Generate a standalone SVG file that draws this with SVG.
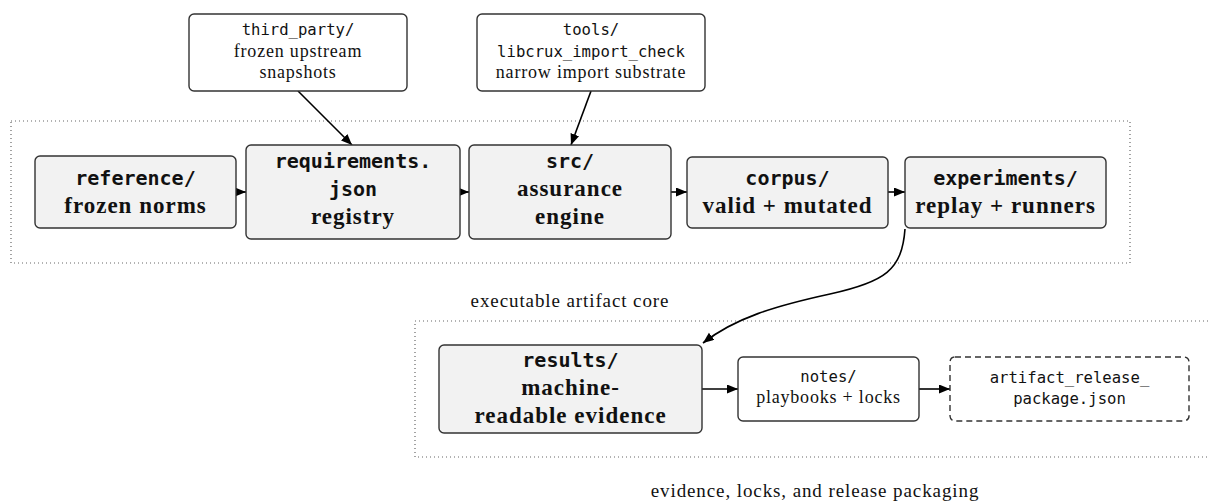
<svg xmlns="http://www.w3.org/2000/svg" width="1208" height="504" viewBox="0 0 1208 504">
<style>
.cl{fill:none;stroke:#666;stroke-width:1.2;stroke-dasharray:1 3}
.main{fill:#f2f2f2;stroke:#333;stroke-width:1.4}
.plain{fill:#fff;stroke:#333;stroke-width:1.4}
.dash{fill:#fff;stroke:#333;stroke-width:1.4;stroke-dasharray:6 4}
.bm{font-family:"DejaVu Sans Mono",monospace;font-weight:bold;font-size:20px;fill:#111;text-anchor:middle}
.bs{font-family:"Liberation Serif",serif;font-weight:bold;font-size:23px;letter-spacing:1px;fill:#111;text-anchor:middle}
.sm{font-family:"DejaVu Sans Mono",monospace;font-size:15.6px;fill:#111;text-anchor:middle}
.ss{font-family:"Liberation Serif",serif;font-size:18px;letter-spacing:0.8px;fill:#111;text-anchor:middle}
.lbl{font-family:"Liberation Serif",serif;font-size:19px;letter-spacing:0.9px;fill:#111;text-anchor:middle}
.edge{fill:none;stroke:#000;stroke-width:1.6}
</style>
<defs>
<marker id="ah" markerUnits="userSpaceOnUse" markerWidth="12" markerHeight="10" refX="11" refY="4.5" orient="auto">
<path d="M0,0 L11,4.5 L0,9 z" fill="#000"/>
</marker>
</defs>
<g id="clusters">
<rect class="cl" x="11" y="121" width="1119" height="142"/>
<text class="lbl" x="570" y="307">executable artifact core</text>
<rect class="cl" x="415" y="321" width="810" height="136"/>
<text class="lbl" x="815" y="497">evidence, locks, and release packaging</text>
</g>
<g id="connectors">
<path class="edge" d="M298,91 L352,145" marker-end="url(#ah)"/>
<path class="edge" d="M591,91 L571,145" marker-end="url(#ah)"/>
<path class="edge" d="M236,192 L246,192" marker-end="url(#ah)"/>
<path class="edge" d="M460,192 L469,192" marker-end="url(#ah)"/>
<path class="edge" d="M671,192 L687,192" marker-end="url(#ah)"/>
<path class="edge" d="M888,192 L905,192" marker-end="url(#ah)"/>
<path class="edge" d="M905,229 C902,270 885,282 830,294 C775,306 735,318 703,343" marker-end="url(#ah)"/>
<path class="edge" d="M702,389 L738,389" marker-end="url(#ah)"/>
<path class="edge" d="M919,389 L950,389" marker-end="url(#ah)"/>
</g>
<g id="third_party">
<rect class="plain" x="189" y="14" width="218" height="77" rx="5"/>
<text class="sm" x="298" y="35">third_party/</text>
<text class="ss" x="298" y="57">frozen upstream</text>
<text class="ss" x="298" y="78">snapshots</text>
</g>
<g id="tools">
<rect class="plain" x="477" y="14" width="228" height="77" rx="5"/>
<text class="sm" x="591" y="35">tools/</text>
<text class="sm" x="591" y="57">libcrux_import_check</text>
<text class="ss" x="591" y="78">narrow import substrate</text>
</g>
<g id="reference">
<rect class="main" x="35" y="156" width="201" height="72" rx="5"/>
<text class="bm" x="135.5" y="185">reference/</text>
<text class="bs" x="135.5" y="213">frozen norms</text>
</g>
<g id="requirements">
<rect class="main" x="246" y="145" width="214" height="94" rx="5"/>
<text class="bm" x="353" y="168">requirements.</text>
<text class="bm" x="353" y="196">json</text>
<text class="bs" x="353" y="224">registry</text>
</g>
<g id="src">
<rect class="main" x="469" y="145" width="202" height="94" rx="5"/>
<text class="bm" x="570" y="168">src/</text>
<text class="bs" x="570" y="196">assurance</text>
<text class="bs" x="570" y="224">engine</text>
</g>
<g id="corpus">
<rect class="main" x="687" y="157" width="201" height="71" rx="5"/>
<text class="bm" x="787.5" y="185">corpus/</text>
<text class="bs" x="787.5" y="213">valid + mutated</text>
</g>
<g id="experiments">
<rect class="main" x="905" y="157" width="201" height="71" rx="5"/>
<text class="bm" x="1005.5" y="185">experiments/</text>
<text class="bs" x="1005.5" y="213">replay + runners</text>
</g>
<g id="results">
<rect class="main" x="439" y="345" width="263" height="88" rx="5"/>
<text class="bm" x="570.5" y="367">results/</text>
<text class="bs" x="570.5" y="395">machine-</text>
<text class="bs" x="570.5" y="423">readable evidence</text>
</g>
<g id="notes">
<rect class="plain" x="738" y="357" width="181" height="64" rx="5"/>
<text class="sm" x="828.5" y="382">notes/</text>
<text class="ss" x="828.5" y="403">playbooks + locks</text>
</g>
<g id="artifact_release_package">
<rect class="dash" x="950" y="357" width="239" height="64" rx="5"/>
<text class="sm" x="1069.5" y="383">artifact_release_</text>
<text class="sm" x="1069.5" y="404">package.json</text>
</g>
</svg>
